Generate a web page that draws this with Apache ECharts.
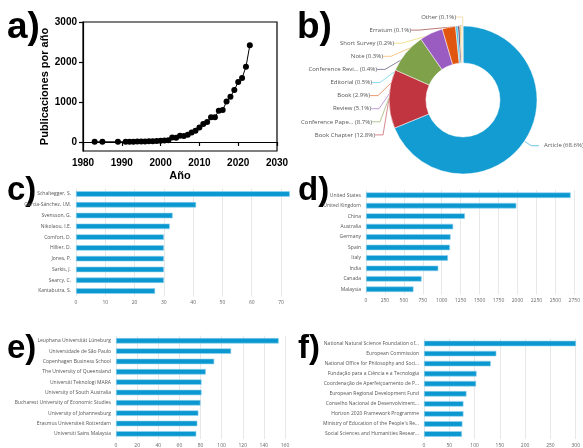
<!DOCTYPE html>
<html>
<head>
<meta charset="utf-8">
<script src="https://cdn.jsdelivr.net/npm/echarts@6/dist/echarts.min.js"></script>
<style>html,body{margin:0;padding:0;background:#fff}#c{width:583px;height:448px}</style>
</head>
<body>
<div id="c"></div>
<script>
// ---- Data ----
const years = [1983,1985,1989,1991,1992,1993,1994,1995,1996,1997,1998,1999,2000,2001,2002,2003,2004,2005,2006,2007,2008,2009,2010,2011,2012,2013,2014,2015,2016,2017,2018,2019,2020,2021,2022,2023];
const pubs  = [5,5,5,5,5,8,10,10,12,18,20,22,30,40,45,110,105,155,150,180,240,280,360,450,500,620,620,780,800,1010,1130,1300,1500,1600,1880,2420];
const yTicksA = [0,1000,2000,3000];

const docTypes = ['Article','Book Chapter','Conference Pape...','Review','Book','Editorial','Conference Revi...','Note','Short Survey','Erratum','Other'];
const docShares = [68.6,12.8,8.7,5.1,2.9,0.5,0.4,0.3,0.2,0.1,0.1];

const authors = ['Schaltegger, S.','García-Sánchez, I.M.','Svensson, G.','Nikolaou, I.E.','Comfort, D.','Hillier, D.','Jones, P.','Sarkis, J.','Searcy, C.','Kantabutra, S.'];
const authorDocs = [73,41,33,32,30,30,30,30,30,27];
const authorTicks = [0,10,20,30,40,50,60,70];

const countries = ['United States','United Kingdom','China','Australia','Germany','Spain','Italy','India','Canada','Malaysia'];
const countryDocs = [2702,1985,1306,1151,1117,1108,1082,954,734,627];

const affils = ['Leuphana Universität Lüneburg','Universidade de São Paulo','Copenhagen Business School','The University of Queensland','Universiti Teknologi MARA','University of South Australia','Bucharest University of Economic Studies','University of Johannesburg','Erasmus Universiteit Rotterdam','Universiti Sains Malaysia'];
const affilDocs = [154,109,93,85,81,81,80,78,77,76];

const funders = ['National Natural Science Foundation of...','European Commission','National Office for Philosophy and Soci...','Fundação para a Ciência e a Tecnologia','Coordenação de Aperfeiçoamento de P...','European Regional Development Fund','Conselho Nacional de Desenvolviment...','Horizon 2020 Framework Programme','Ministry of Education of the People\'s Re...','Social Sciences and Humanities Resear...'];
const funderDocs = [301,143,132,104,103,84,78,78,76,75];

// ---- Styles ----
const pieColors = ['#139cd1','#c0353f','#7fa14a','#9a5cc1','#e1560f','#45c2e6','#3b2f5e','#f2a23a','#e6d04a','#8c1f1f','#f0c878'];
const labelRight = [null,375,372,371,370,372,377,383,394,411,456];
const BLUE = '#0b98d0';
const bold = '"Liberation Sans", Arial, sans-serif';
const thin = '"Open Sans", "Noto Sans", sans-serif';
const plain = v => String(v);

function barX(gi, max, interval, custom) {
  const o = {
    type:'value', gridIndex:gi, min:0, max:max,
    axisLine:{show:false}, axisTick:{show:false},
    splitLine:{show:true, lineStyle:{color:'#e8e8e8', width:1}},
    axisLabel:{fontSize:5, color:'#666', margin:4, fontFamily:thin, formatter:plain}
  };
  if (interval) o.interval = interval;
  if (custom) { o.axisLabel.customValues = custom; o.axisTick.customValues = custom; }
  return o;
}
function barY(gi, cats) {
  return {
    type:'category', gridIndex:gi, data:cats, inverse:true,
    axisLine:{show:false}, axisTick:{show:false}, splitLine:{show:false},
    axisLabel:{fontSize:5, color:'#555', margin:5, fontFamily:thin}
  };
}
function barS(i, vals) {
  return {
    type:'bar', xAxisIndex:i, yAxisIndex:i, data:vals, barWidth:5.5,
    itemStyle:{color:BLUE, borderColor:'#8fd2ee', borderWidth:0.6}, silent:true
  };
}

const chart = echarts.init(document.getElementById('c'), null, {renderer:'canvas'});
const option = {
  animation:false,
  backgroundColor:'#fff',
  grid:[
    {left:83, top:22, width:194, height:129, show:true, borderColor:'#000', borderWidth:1.2, backgroundColor:'transparent'},
    {left:76, top:188.6, width:214.7, height:107.8},
    {left:366, top:190, width:214, height:104.5},
    {left:116, top:335.6, width:169, height:107},
    {left:424, top:338.5, width:157, height:103.7}
  ],
  xAxis:[
    {type:'value', gridIndex:0, min:1980, max:2030, interval:10,
     axisLine:{show:true, lineStyle:{color:'#000', width:1.2}},
     axisTick:{show:true, length:4, lineStyle:{color:'#000', width:1.2}},
     splitLine:{show:false},
     axisLabel:{fontSize:10, fontWeight:'bold', color:'#000', margin:7, fontFamily:bold, formatter:plain},
     name:'Año', nameLocation:'middle', nameGap:19,
     nameTextStyle:{fontSize:11, fontWeight:'bold', color:'#000', fontFamily:bold}},
    barX(1, 73.3, null, authorTicks),
    barX(2, 2750, 250),
    barX(3, 160, 20),
    barX(4, 300, 50)
  ],
  yAxis:[
    {type:'value', gridIndex:0, min:-225, max:3000,
     axisLine:{show:true, lineStyle:{color:'#000', width:1.2}},
     axisTick:{show:true, length:4, customValues:yTicksA, lineStyle:{color:'#000', width:1.2}},
     splitLine:{show:false},
     axisLabel:{fontSize:10, fontWeight:'bold', color:'#000', margin:6, fontFamily:bold, customValues:yTicksA, formatter:plain},
     name:'Publicaciones por año', nameLocation:'middle', nameGap:33, nameRotate:90,
     nameTextStyle:{fontSize:11, fontWeight:'bold', color:'#000', fontFamily:bold}},
    barY(1, authors),
    barY(2, countries),
    barY(3, affils),
    barY(4, funders)
  ],
  series:[
    {type:'line', xAxisIndex:0, yAxisIndex:0, data:years.map((y,i)=>[y,pubs[i]]),
     symbol:'circle', symbolSize:6, itemStyle:{color:'#000'}, lineStyle:{color:'#000', width:1}, silent:true},
    {type:'pie', center:[463,100], radius:[37,74], startAngle:90, clockwise:true,
     avoidLabelOverlap:false, silent:true,
     data:docTypes.map((n,i)=>({name:n, value:docShares[i]})),
     color:pieColors,
     itemStyle:{borderColor:'#fff', borderWidth:0.5},
     label:{show:true, position:'outside', fontSize:6, color:'#555', fontFamily:thin,
       formatter:p=>p.name+' ('+p.value.toFixed(1)+'%)'},
     labelLine:{show:true, length:8, length2:8, lineStyle:{width:0.6}},
     labelLayout:function(p){
       const i = p.dataIndex;
       if (i === 0) return {};
       const k = docTypes.length - 1 - i;
       return {x: labelRight[i], y: 17 + k*13.1, align:'right', verticalAlign:'middle'};
     }},
    barS(1, authorDocs),
    barS(2, countryDocs),
    barS(3, affilDocs),
    barS(4, funderDocs)
  ],
  graphic:[
    {type:'text', left:7, top:9, style:{text:'a)', font:'bold 37px '+bold, fill:'#000'}},
    {type:'text', left:297, top:9, style:{text:'b)', font:'bold 37px '+bold, fill:'#000'}},
    {type:'text', left:7, top:174, style:{text:'c)', font:'bold 33px '+bold, fill:'#000'}},
    {type:'text', left:298, top:174, style:{text:'d)', font:'bold 33px '+bold, fill:'#000'}},
    {type:'text', left:7, top:332, style:{text:'e)', font:'bold 33px '+bold, fill:'#000'}},
    {type:'text', left:298, top:332, style:{text:'f)', font:'bold 33px '+bold, fill:'#000'}}
  ]
};
chart.setOption(option);
</script>
</body>
</html>
